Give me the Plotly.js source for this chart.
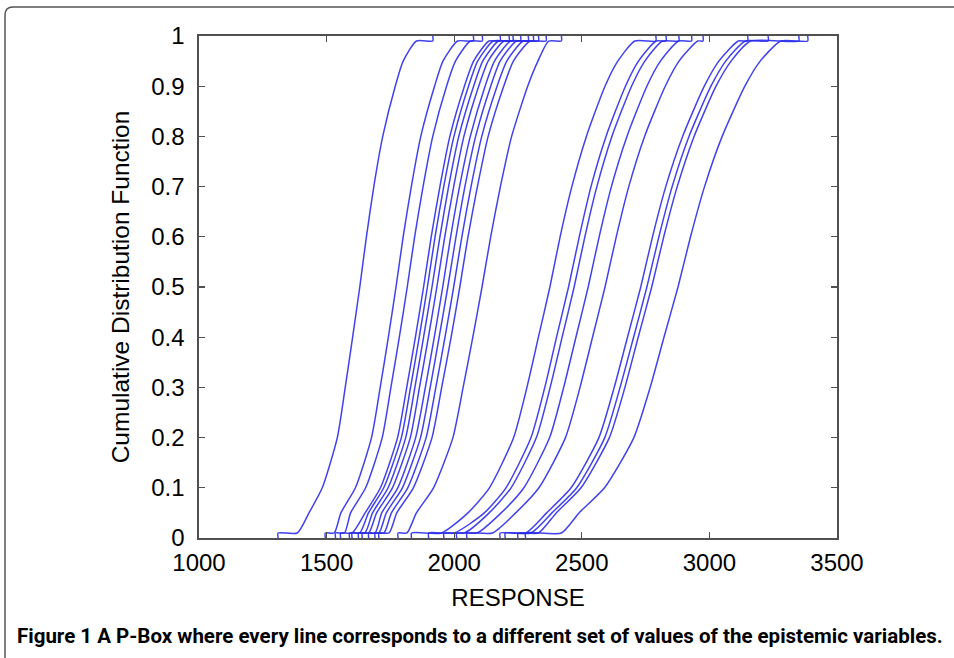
<!DOCTYPE html>
<html>
<head>
<meta charset="utf-8">
<script src="https://cdn.plot.ly/plotly-3.0.1.min.js"></script>
<style>
  html, body { margin: 0; padding: 0; background: #fff; }
  #chart { width: 954px; height: 658px; }
</style>
</head>
<body>
<div id="chart"></div>
<script>
// CDF levels at which each curve's response value was read
const cdfLevels = [0, 0.01, 0.01, 0.05, 0.1, 0.2, 0.3, 0.4, 0.5, 0.6, 0.7, 0.8, 0.9, 0.95, 0.99, 0.99, 1];

// Response values (one array per epistemic set), left cluster
const L01 = [1310,1310,1385,1431,1483,1542,1573,1602,1630,1656,1685,1720,1769,1800,1852,1916,1916];
const L02 = [1495,1495,1530,1556,1613,1676,1710,1742,1772,1800,1832,1869,1923,1956,2013,2075,2075];
const L03 = [1535,1535,1570,1594,1653,1718,1752,1785,1816,1845,1878,1916,1970,2005,2063,2110,2110];
const L04 = [1555,1555,1600,1651,1711,1778,1814,1848,1880,1910,1944,1983,2040,2076,2136,2180,2180];
const L05 = [1590,1590,1630,1664,1724,1793,1829,1863,1895,1925,1959,1999,2056,2092,2153,2230,2230];
const L06 = [1600,1600,1650,1680,1741,1810,1846,1880,1913,1944,1978,2018,2076,2112,2173,2215,2215];
const L07 = [1625,1625,1665,1696,1758,1828,1864,1899,1932,1963,1998,2038,2096,2133,2195,2260,2260];
const L08 = [1640,1640,1690,1716,1779,1849,1887,1922,1955,1986,2021,2063,2121,2158,2221,2290,2290];
const L09 = [1665,1665,1705,1734,1797,1868,1906,1941,1975,2007,2042,2084,2143,2180,2244,2310,2310];
const L10 = [1690,1690,1725,1754,1818,1890,1928,1964,1998,2030,2066,2108,2168,2206,2270,2330,2330];
const L11 = [1705,1705,1745,1775,1840,1913,1951,1988,2022,2054,2091,2133,2194,2232,2297,2360,2360];
const L12 = [1780,1780,1815,1852,1919,1995,2035,2073,2109,2143,2181,2225,2288,2328,2370,2420,2420];

// Right cluster
const R01 = [1833,1833,1950,2054,2138,2233,2285,2330,2375,2415,2461,2518,2591,2641,2708,2790,2790];
const R02 = [1900,1900,2000,2118,2203,2301,2355,2401,2448,2490,2536,2595,2671,2722,2791,2830,2830];
const R03 = [1960,1960,2040,2137,2223,2322,2376,2423,2470,2512,2559,2618,2695,2747,2816,2880,2880];
const R04 = [2010,2010,2090,2184,2273,2374,2429,2477,2525,2568,2616,2677,2755,2808,2879,2930,2930];
const R05 = [2050,2050,2150,2241,2332,2436,2493,2542,2591,2635,2684,2746,2827,2881,2954,2975,2975];
const R06 = [2180,2180,2280,2362,2458,2567,2627,2679,2731,2777,2829,2895,2980,3037,3113,3150,3150];
const R07 = [2200,2200,2300,2383,2480,2590,2650,2703,2755,2802,2854,2920,3006,3064,3141,3230,3230];
const R08 = [2250,2250,2330,2400,2497,2608,2669,2721,2774,2821,2874,2940,3026,3085,3162,3350,3350];
const R09 = [2280,2280,2420,2489,2589,2704,2768,2822,2877,2926,2981,3050,3139,3199,3280,3385,3385];

const xTickValues = [1000, 1500, 2000, 2500, 3000, 3500];
const yTickValues = [0, 0.1, 0.2, 0.3, 0.4, 0.5, 0.6, 0.7, 0.8, 0.9, 1];
const xTitle = 'RESPONSE';
const yTitle = 'Cumulative Distribution Function';
const caption = 'Figure 1 A P-Box where every line corresponds to a different set of values of the epistemic variables.';

const curves = [L01,L02,L03,L04,L05,L06,L07,L08,L09,L10,L11,L12,R01,R02,R03,R04,R05,R06,R07,R08,R09];

const traces = curves.map(xs => ({
  type: 'scatter', mode: 'lines',
  x: xs, y: cdfLevels,
  line: { color: 'rgba(40,40,235,0.88)', width: 1.5, shape: 'spline', smoothing: 0.6 },
  hoverinfo: 'skip', showlegend: false
}));

const labelFont = { family: 'Liberation Sans, Arial, sans-serif', size: 24, color: '#000' };

const axisCommon = {
  showgrid: false, zeroline: false,
  showline: true, linecolor: '#505050', linewidth: 1.6,
  mirror: 'allticks', ticks: 'inside', ticklen: 6, tickwidth: 1.2, tickcolor: '#505050',
  tickfont: labelFont
};

const PL = 199, PR = 837, PT = 36, PB = 538;
const W = PR - PL, H = PB - PT;
const px = v => (v - PL) / W;
const py = v => (PB - v) / H;

const layout = {
  width: 954, height: 658,
  margin: { l: PL, r: 954 - PR, t: PT, b: 658 - PB },
  paper_bgcolor: '#fff', plot_bgcolor: '#fff',
  xaxis: Object.assign({}, axisCommon, {
    range: [1000, 3500], tickvals: xTickValues, ticktext: xTickValues.map(String),
    ticklabelstandoff: 3,
    title: { text: xTitle, font: labelFont, standoff: 14 }
  }),
  yaxis: Object.assign({}, axisCommon, {
    range: [0, 1], tickvals: yTickValues, ticktext: yTickValues.map(String),
    ticklabelstandoff: 8,
    title: { text: yTitle, font: { family: 'Liberation Sans, Arial, sans-serif', size: 24.5, color: '#000' }, standoff: 14 }
  }),
  shapes: [{
    type: 'path', xref: 'paper', yref: 'paper',
    path: `M ${px(5)} ${py(670)} L ${px(5)} ${py(15)} Q ${px(5)} ${py(7)} ${px(13)} ${py(7)} L ${px(960)} ${py(7)}`,
    line: { color: '#555', width: 1.5 }
  }],
  annotations: [{
    xref: 'paper', yref: 'paper', x: px(480), y: py(636),
    xanchor: 'center', yanchor: 'middle', showarrow: false,
    text: '<b>' + caption + '</b>',
    font: { family: 'Roboto, Liberation Sans, sans-serif', size: 20.5, color: '#000' }
  }]
};

Plotly.newPlot('chart', traces, layout, { staticPlot: true, displayModeBar: false });
</script>
</body>
</html>
